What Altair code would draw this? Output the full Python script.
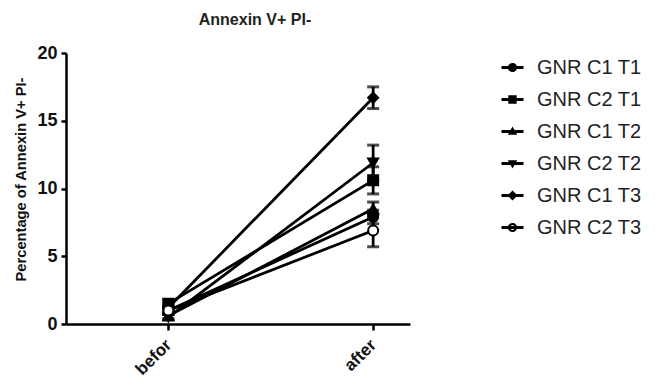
import altair as alt
import pandas as pd

series = ["GNR C1 T1", "GNR C2 T1", "GNR C1 T2", "GNR C2 T2", "GNR C1 T3", "GNR C2 T3"]
befor_vals = [1.0, 1.5, 0.6, 0.5, 1.2, 1.0]
after_vals = [7.9, 10.6, 8.5, 11.9, 16.7, 6.9]
befor_err = [0.3, 0.3, 0.2, 0.2, 0.3, 0.3]
after_err = [0.5, 1.0, 0.5, 1.3, 0.8, 1.2]
time_labels = ["befor", "after"]
y_ticks = [0, 5, 10, 15, 20]

std_shapes = ["circle", "square", "triangle-up", "triangle-down", "diamond", "circle"]
fills = ["black", "black", "black", "black", "black", "white"]

LINE = "M-1,-0.14H1V0.14H-1Z "
legend_paths = [
    LINE + "M0.42,0A0.42,0.42,0,1,1,-0.42,0A0.42,0.42,0,1,1,0.42,0Z",
    LINE + "M-0.38,-0.38H0.38V0.38H-0.38Z",
    LINE + "M0,-0.45L0.43,0.3H-0.43Z",
    LINE + "M0,0.45L-0.43,-0.3H0.43Z",
    LINE + "M0,-0.46L0.46,0L0,0.46L-0.46,0Z",
    LINE + "M0.42,0A0.42,0.42,0,1,1,-0.42,0A0.42,0.42,0,1,1,0.42,0Z "
           "M0.22,0A0.22,0.22,0,1,0,-0.22,0A0.22,0.22,0,1,0,0.22,0Z",
]

rows = []
for i, s in enumerate(series):
    for t, (v, e) in enumerate([(befor_vals[i], befor_err[i]), (after_vals[i], after_err[i])]):
        rows.append({"series": s, "t": t, "v": v, "lo": v - e, "hi": v + e, "order": i})
df = pd.DataFrame(rows)

FONT = "Liberation Sans"

x_enc = alt.X("t:Q",
              scale=alt.Scale(domain=[-0.5, 1.18], nice=False, zero=False),
              axis=alt.Axis(values=[0, 1], title=None, grid=False,
                            labelExpr="datum.value == 0 ? 'befor' : 'after'",
                            labelAngle=-45, labelAlign="right", labelBaseline="middle",
                            labelFontSize=17, labelFontWeight="bold",
                            labelFont=FONT, labelColor="#111", labelPadding=12,
                            tickSize=6))
y_scale = alt.Scale(domain=[0, 20], nice=False)
y_axis = alt.Axis(values=y_ticks, grid=False, title="Percentage of Annexin V+ PI-",
                  titleFontSize=14.7, titleFontWeight="bold", titleFont=FONT,
                  titleColor="#111", titlePadding=8, titleY=126,
                  labelFontSize=18, labelFontWeight="bold", labelFont=FONT,
                  labelColor="#111", labelPadding=4, tickSize=5)

base = alt.Chart(df)

lines = base.mark_line(color="black", strokeWidth=2.8).encode(
    x=x_enc,
    y=alt.Y("v:Q", scale=y_scale, axis=y_axis),
    detail="series:N",
)

err = base.mark_rule(color="black", strokeWidth=2.8).encode(
    x="t:Q", y="lo:Q", y2="hi:Q")
cap_hi = base.mark_tick(color="black", orient="horizontal", size=12, thickness=3).encode(
    x="t:Q", y="hi:Q")
cap_lo = base.mark_tick(color="black", orient="horizontal", size=12, thickness=3).encode(
    x="t:Q", y="lo:Q")

pts = base.mark_point(filled=False, size=100, stroke="black", strokeWidth=2, opacity=1).encode(
    x="t:Q", y="v:Q",
    shape=alt.Shape("series:N", scale=alt.Scale(domain=series, range=std_shapes), legend=None),
    fill=alt.Fill("series:N", scale=alt.Scale(domain=series, range=fills), legend=None),
)

legend_layer = base.transform_filter("false").mark_point(
    filled=True, color="black", opacity=1).encode(
    x="t:Q", y="v:Q",
    shape=alt.Shape("series:N",
                    scale=alt.Scale(domain=series, range=legend_paths),
                    legend=alt.Legend(title=None, orient="none", legendX=435, legendY=3,
                                      symbolSize=484, symbolFillColor="black",
                                      symbolStrokeColor="black", symbolStrokeWidth=0.3,
                                      symbolOpacity=1,
                                      labelFontSize=20, labelFont=FONT, labelColor="#222",
                                      labelOffset=13, rowPadding=10, symbolOffset=0)),
)

chart = alt.layer(lines, err, cap_hi, cap_lo, pts, legend_layer).resolve_scale(
    shape="independent", fill="independent"
).resolve_legend(shape="independent").properties(
    width=344, height=271,
    autosize=alt.AutoSizeParams(type="none"),
    padding={"left": 66, "top": 53, "right": 250, "bottom": 64},
    title=alt.Title("Annexin V+ PI-", fontSize=16, fontWeight="bold", font=FONT,
                    color="#222", anchor="middle", dx=17, offset=16),
).configure_view(stroke=None).configure_axis(
    domainColor="black", domainWidth=2.5, tickColor="black", tickWidth=2.5,
)

chart.save("out.html", embed_options={"renderer": "svg", "actions": False})
